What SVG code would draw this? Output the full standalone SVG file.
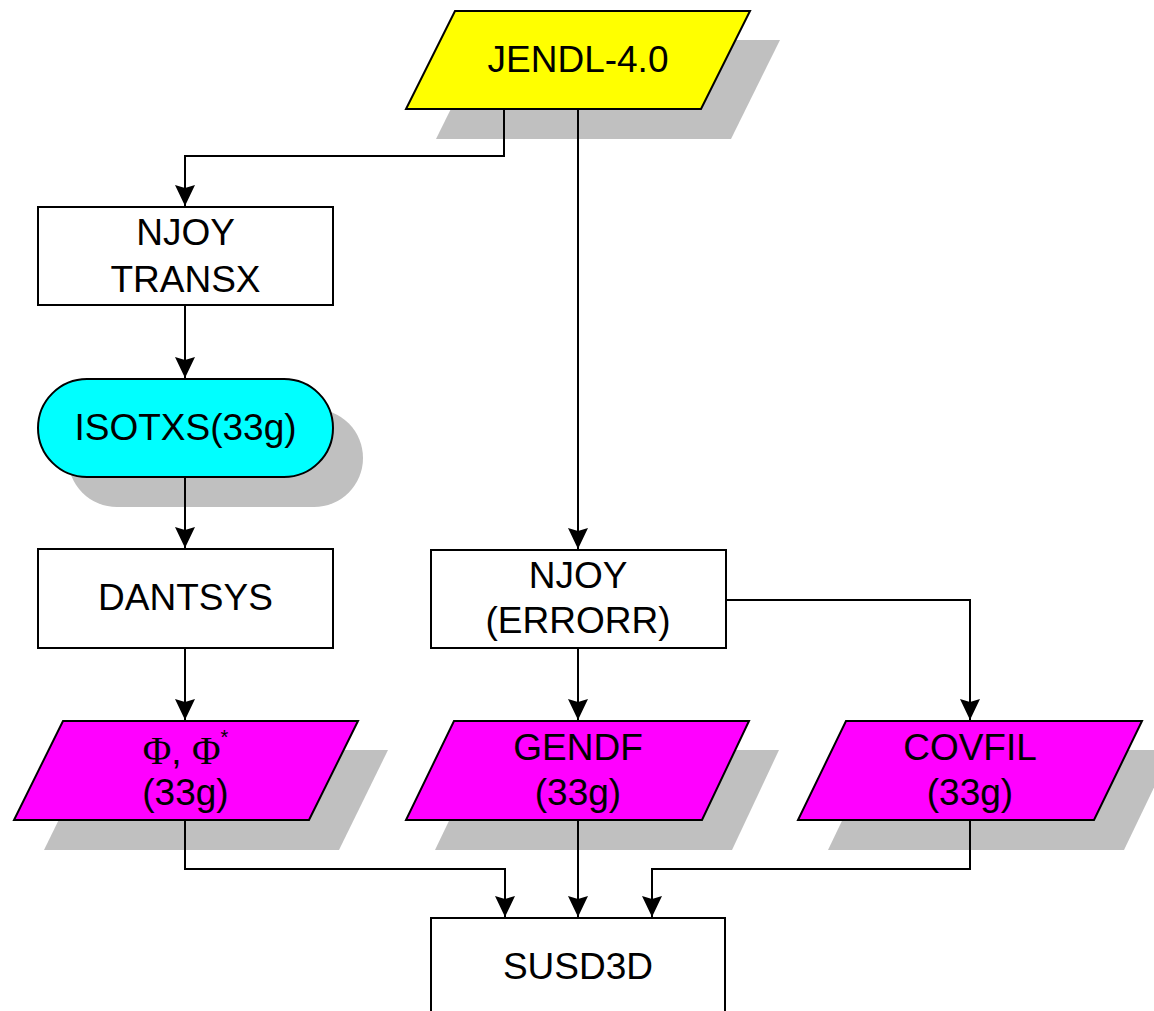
<svg xmlns="http://www.w3.org/2000/svg" width="1154" height="1011" viewBox="0 0 1154 1011">
<style>
.sh{fill:#c0c0c0;stroke:none}
.nd{stroke:#000;stroke-width:2}
.box{fill:#fff}
.t{font-family:"Liberation Sans",Arial,sans-serif;font-size:37px;fill:#000;text-anchor:middle}
.ser{font-family:"Liberation Serif","Times New Roman",serif;font-size:39px}
.c{fill:none;stroke:#000;stroke-width:2}
</style>
<defs>
<marker id="ah" markerWidth="22" markerHeight="20" refX="21" refY="10" orient="auto" markerUnits="userSpaceOnUse" viewBox="0 0 22 20">
<path d="M0,0 L21,10 L0,20 L3,10 Z" fill="#000"/>
</marker>
</defs>
<rect width="1154" height="1011" fill="#fff"/>

<g id="jendl">
<polygon class="sh" points="485,40 780,40 731,139 436,139"/>
<polygon class="nd" fill="#ffff00" points="455,11 750,11 701,109 406,109"/>
<text class="t" x="578" y="72">JENDL-4.0</text>
</g>

<g id="njoy-transx">
<rect class="nd box" x="38" y="207" width="295" height="98"/>
<text class="t" x="185.5" y="245">NJOY</text>
<text class="t" x="185.5" y="292">TRANSX</text>
</g>

<g id="isotxs">
<rect class="sh" x="68" y="409" width="295" height="98" rx="49" ry="49"/>
<rect class="nd" fill="#00ffff" x="38" y="379" width="295" height="98" rx="49" ry="49"/>
<text class="t" x="185.5" y="440">ISOTXS(33g)</text>
</g>

<g id="dantsys">
<rect class="nd box" x="38" y="549" width="295" height="99"/>
<text class="t" x="185.5" y="610">DANTSYS</text>
</g>

<g id="njoy-errorr">
<rect class="nd box" x="431" y="550" width="295" height="98"/>
<text class="t" x="578" y="588">NJOY</text>
<text class="t" x="578" y="633">(ERRORR)</text>
</g>

<g id="phi">
<polygon class="sh" points="93,750 388,750 339,850 44,850"/>
<polygon class="nd" fill="#ff00ff" points="63,721 358,721 309,820 14,820"/>
<text class="t" x="185.5" y="764"><tspan class="ser">Φ</tspan>, <tspan class="ser">Φ</tspan><tspan font-size="20" dy="-20">*</tspan></text>
<text class="t" x="185.5" y="805">(33g)</text>
</g>

<g id="gendf">
<polygon class="sh" points="483,750 779,750 732,850 435,850"/>
<polygon class="nd" fill="#ff00ff" points="454,721 749,721 702,820 406,820"/>
<text class="t" x="578" y="760">GENDF</text>
<text class="t" x="578" y="805">(33g)</text>
</g>

<g id="covfil">
<polygon class="sh" points="876,750 1172,750 1124,850 828,850"/>
<polygon class="nd" fill="#ff00ff" points="846,721 1142,721 1094,820 798,820"/>
<text class="t" x="970" y="760">COVFIL</text>
<text class="t" x="970" y="805">(33g)</text>
</g>

<g id="susd3d">
<rect class="nd box" x="431" y="918" width="294" height="100"/>
<text class="t" x="578" y="979">SUSD3D</text>
</g>

<g id="connectors">
<path class="c" d="M504,109 V156 H185 V206" marker-end="url(#ah)"/>
<path class="c" d="M578,109 V549" marker-end="url(#ah)"/>
<path class="c" d="M185,305 V378" marker-end="url(#ah)"/>
<path class="c" d="M185,477 V548" marker-end="url(#ah)"/>
<path class="c" d="M185,648 V720" marker-end="url(#ah)"/>
<path class="c" d="M578,648 V720" marker-end="url(#ah)"/>
<path class="c" d="M726,600 H970 V720" marker-end="url(#ah)"/>
<path class="c" d="M185,820 V869 H505 V917" marker-end="url(#ah)"/>
<path class="c" d="M578,820 V917" marker-end="url(#ah)"/>
<path class="c" d="M970,820 V869 H652 V917" marker-end="url(#ah)"/>
</g>
</svg>
